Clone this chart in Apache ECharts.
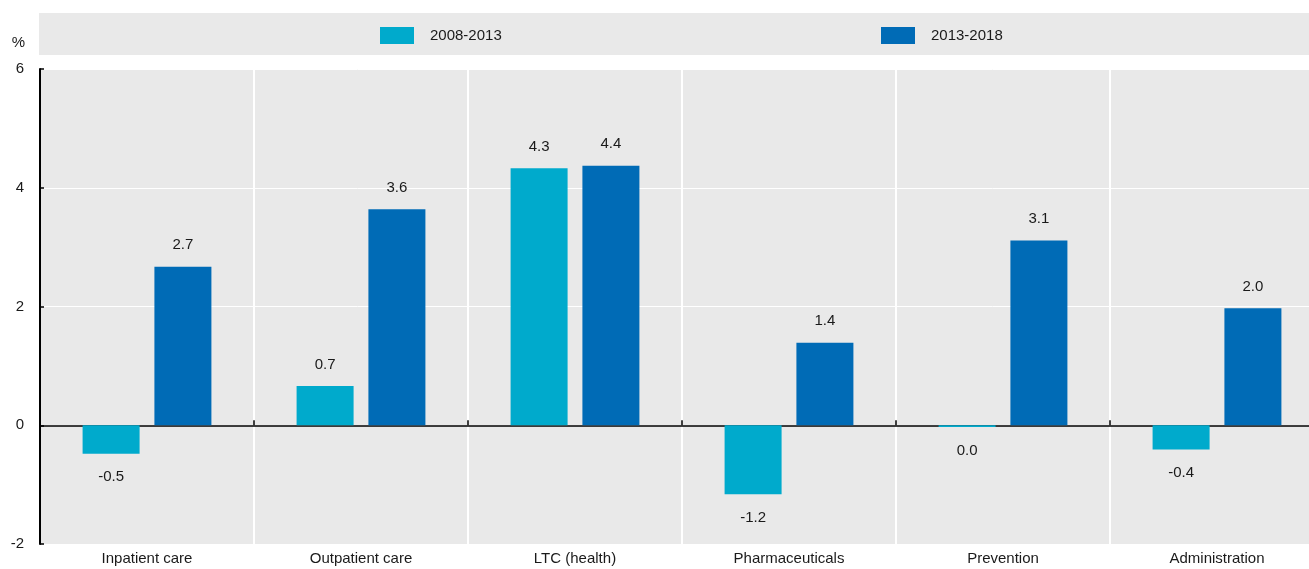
<!DOCTYPE html>
<html>
<head>
<meta charset="utf-8">
<script src="https://cdn.jsdelivr.net/npm/echarts@6/dist/echarts.min.js"></script>
<style>
html,body{margin:0;padding:0;background:#fff;}
#chart{width:1309px;height:569px;}
</style>
</head>
<body>
<div id="chart"></div>
<script>
const categories = ['Inpatient care', 'Outpatient care', 'LTC (health)', 'Pharmaceuticals', 'Prevention', 'Administration'];
const seriesNames = ['2008-2013', '2013-2018'];
const values2008_2013 = [-0.48, 0.66, 4.33, -1.16, -0.03, -0.41];
const values2013_2018 = [2.67, 3.64, 4.37, 1.39, 3.11, 1.97];
const yTicks = [-2, 0, 2, 4, 6];

const FONT = '"Liberation Sans", Arial, sans-serif';
const FS = 15;
const TXT = '#1a1a1a';
const colors = ['#00aacc', '#006bb6'];

function fmt(v) {
  const r = Math.round(v * 10) / 10;
  return (r === 0 ? 0 : r).toFixed(1);
}
function items(arr) {
  return arr.map(v => ({
    value: v,
    label: v >= 0 ? { position: 'top', distance: 14 } : { position: 'bottom', distance: 16 }
  }));
}

const chart = echarts.init(document.getElementById('chart'), null, { renderer: 'canvas' });
const option = {
  animation: false,
  backgroundColor: '#ffffff',
  textStyle: { fontFamily: FONT },
  graphic: [{
    type: 'rect', left: 39, top: 13, z: -10,
    shape: { width: 1270, height: 42 },
    style: { fill: '#e9e9e9' }
  }],
  legend: [
    { data: [seriesNames[0]], left: 380, top: 27, padding: 0, icon: 'rect', itemWidth: 34, itemHeight: 17,
      textStyle: { fontFamily: FONT, fontSize: FS, color: TXT, padding: [0, 0, 0, 11] } },
    { data: [seriesNames[1]], left: 881, top: 27, padding: 0, icon: 'rect', itemWidth: 34, itemHeight: 17,
      textStyle: { fontFamily: FONT, fontSize: FS, color: TXT, padding: [0, 0, 0, 11] } }
  ],
  grid: {
    left: 40, right: -15, top: 69, bottom: 25,
    outerBoundsMode: 'none',
    show: true, backgroundColor: '#e9e9e9', borderWidth: 0,
    containLabel: false
  },
  xAxis: [
    {
      type: 'category', data: categories, position: 'bottom',
      axisLine: { show: false, onZero: false },
      axisTick: { show: false },
      axisLabel: { margin: 7, fontFamily: FONT, fontSize: FS, color: TXT },
      splitLine: { show: true, interval: 0, lineStyle: { color: '#ffffff', width: 2 } }
    },
    {
      type: 'category', data: categories, position: 'top',
      axisLine: { show: true, onZero: true, lineStyle: { color: '#000', width: 1.5 } },
      axisTick: { show: true, inside: false, length: 5, lineStyle: { color: '#000', width: 1.5 } },
      axisLabel: { show: false },
      splitLine: { show: false }
    }
  ],
  yAxis: {
    type: 'value', min: yTicks[0], max: yTicks[yTicks.length - 1], interval: 2,
    name: '%', nameLocation: 'end', nameGap: 19,
    nameTextStyle: { align: 'right', fontFamily: FONT, fontSize: FS, color: TXT, padding: [0, 15, 0, 0] },
    axisLine: { show: true, lineStyle: { color: '#000', width: 2 } },
    axisTick: { show: true, inside: true, length: 4, lineStyle: { color: '#000', width: 1.5 } },
    axisLabel: { margin: 16, fontFamily: FONT, fontSize: FS, color: TXT },
    splitLine: { show: true, lineStyle: { color: '#ffffff', width: 1 } }
  },
  series: [
    {
      name: seriesNames[0], type: 'bar', xAxisIndex: 0, data: items(values2008_2013),
      barWidth: 57, barGap: '26%',
      itemStyle: { color: colors[0] },
      label: { show: true, fontFamily: FONT, fontSize: FS, color: TXT, formatter: p => fmt(p.value) }
    },
    {
      name: seriesNames[1], type: 'bar', xAxisIndex: 0, data: items(values2013_2018),
      barWidth: 57, barGap: '26%',
      itemStyle: { color: colors[1] },
      label: { show: true, fontFamily: FONT, fontSize: FS, color: TXT, formatter: p => fmt(p.value) }
    }
  ]
};
chart.setOption(option);
</script>
</body>
</html>
